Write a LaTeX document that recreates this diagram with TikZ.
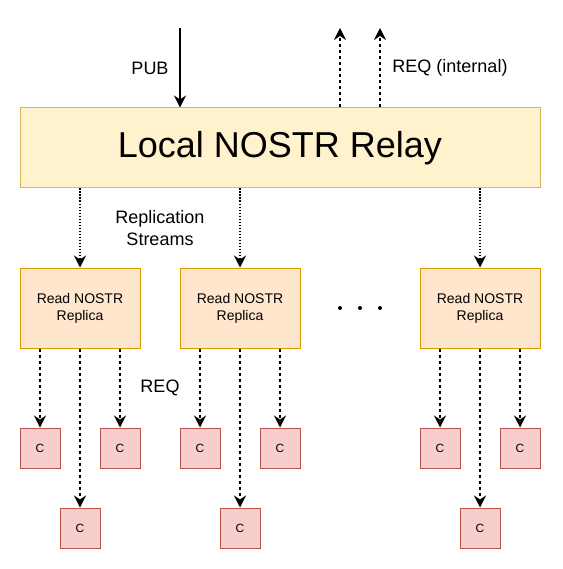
\documentclass[tikz,border=0pt]{standalone}
\usepackage{fontspec}
\setmainfont{Liberation Sans}
\usepackage{xcolor}
\usetikzlibrary{arrows.meta,positioning}
\definecolor{relayfill}{HTML}{FFF2CC}
\definecolor{relaydraw}{HTML}{D6B656}
\definecolor{replfill}{HTML}{FFE6CC}
\definecolor{repldraw}{HTML}{D79B00}
\definecolor{clfill}{HTML}{F8CECC}
\definecolor{cldraw}{HTML}{B85450}
\tikzset{
	arr/.style={-{Stealth[length=12pt,width=12pt,inset=4pt]}},
	relaybox/.style={% the main relay
		draw=relaydraw, fill=relayfill,
		rectangle,
		minimum width=520pt,
		minimum height=80pt,
		font=\fontsize{36}{43}\selectfont
	},
	replica/.style={
		draw=repldraw, fill=replfill,
		rectangle,
		minimum width=120pt,
		minimum height=80pt,
		align=center,
		font=\fontsize{14}{17}\selectfont
	},
	client/.style={
		draw=cldraw, fill=clfill,
		rectangle,
		minimum size=40pt,
		font=\fontsize{12}{14}\selectfont
	}
}

\begin{document}
\begin{tikzpicture}[x=1pt,y=-1pt,line width=1pt,
                        lbl/.style={align=center, font=\fontsize{18}{22}\selectfont},
                        stream/.style={arr, line width=1.3pt, dash pattern=on 1.3pt off 1.7pt},
                        req/.style={arr, line width=1.4pt, dash pattern=on 3pt off 3pt}]
                        \useasboundingbox (0,0) rectangle (562,569);
                        \node [relaybox] (relay) at (280,148) {Local NOSTR Relay};
                        \node [replica] (rep1) at (80,308) {Read NOSTR\\Replica};
                        \node [replica] (rep2) at (240,308) {Read NOSTR\\Replica};
                        \node [replica] (rep3) at (480,308) {Read NOSTR\\Replica};
                        \node [client] (c1a) at (40,448) {C};
                        \node [client] (c1b) at (80,528) {C};
                        \node [client] (c1c) at (120,448) {C};
                        \node [client] (c2a) at (200,448) {C};
                        \node [client] (c2b) at (240,528) {C};
                        \node [client] (c2c) at (280,448) {C};
                        \node [client] (c3a) at (440,448) {C};
                        \node [client] (c3b) at (480,528) {C};
                        \node [client] (c3c) at (520,448) {C};
                        \coordinate (pubin) at (180,28);
                        \coordinate (reqout1) at (340,28);
                        \coordinate (reqout2) at (380,28);
                        \node [lbl] (pub) at (150,68) {PUB};
                        \node [lbl] (reqint) at (450,68) {REQ (internal)};
                        \node [lbl] (streams) at (160,228) {Replication\\Streams};
                        \node [lbl] (reqlbl) at (160,388) {REQ};
                        \fill (340,308) circle (2pt) (360,308) circle (2pt) (380,308) circle (2pt);
                        \draw [arr, line width=1.4pt] (pubin) -- (pubin |- relay.north);
                        \draw [req] (reqout1 |- relay.north) -- (reqout1);
                        \draw [req] (reqout2 |- relay.north) -- (reqout2);
                        \draw [stream] (rep1 |- relay.south) -- (rep1.north);
                        \draw [stream] (rep2 |- relay.south) -- (rep2.north);
                        \draw [stream] (rep3 |- relay.south) -- (rep3.north);
                        \draw [req] (c1a |- rep1.south) -- (c1a.north);
                        \draw [req] (c1b |- rep1.south) -- (c1b.north);
                        \draw [req] (c1c |- rep1.south) -- (c1c.north);
                        \draw [req] (c2a |- rep2.south) -- (c2a.north);
                        \draw [req] (c2b |- rep2.south) -- (c2b.north);
                        \draw [req] (c2c |- rep2.south) -- (c2c.north);
                        \draw [req] (c3a |- rep3.south) -- (c3a.north);
                        \draw [req] (c3b |- rep3.south) -- (c3b.north);
                        \draw [req] (c3c |- rep3.south) -- (c3c.north);
                \end{tikzpicture}
\end{document}
